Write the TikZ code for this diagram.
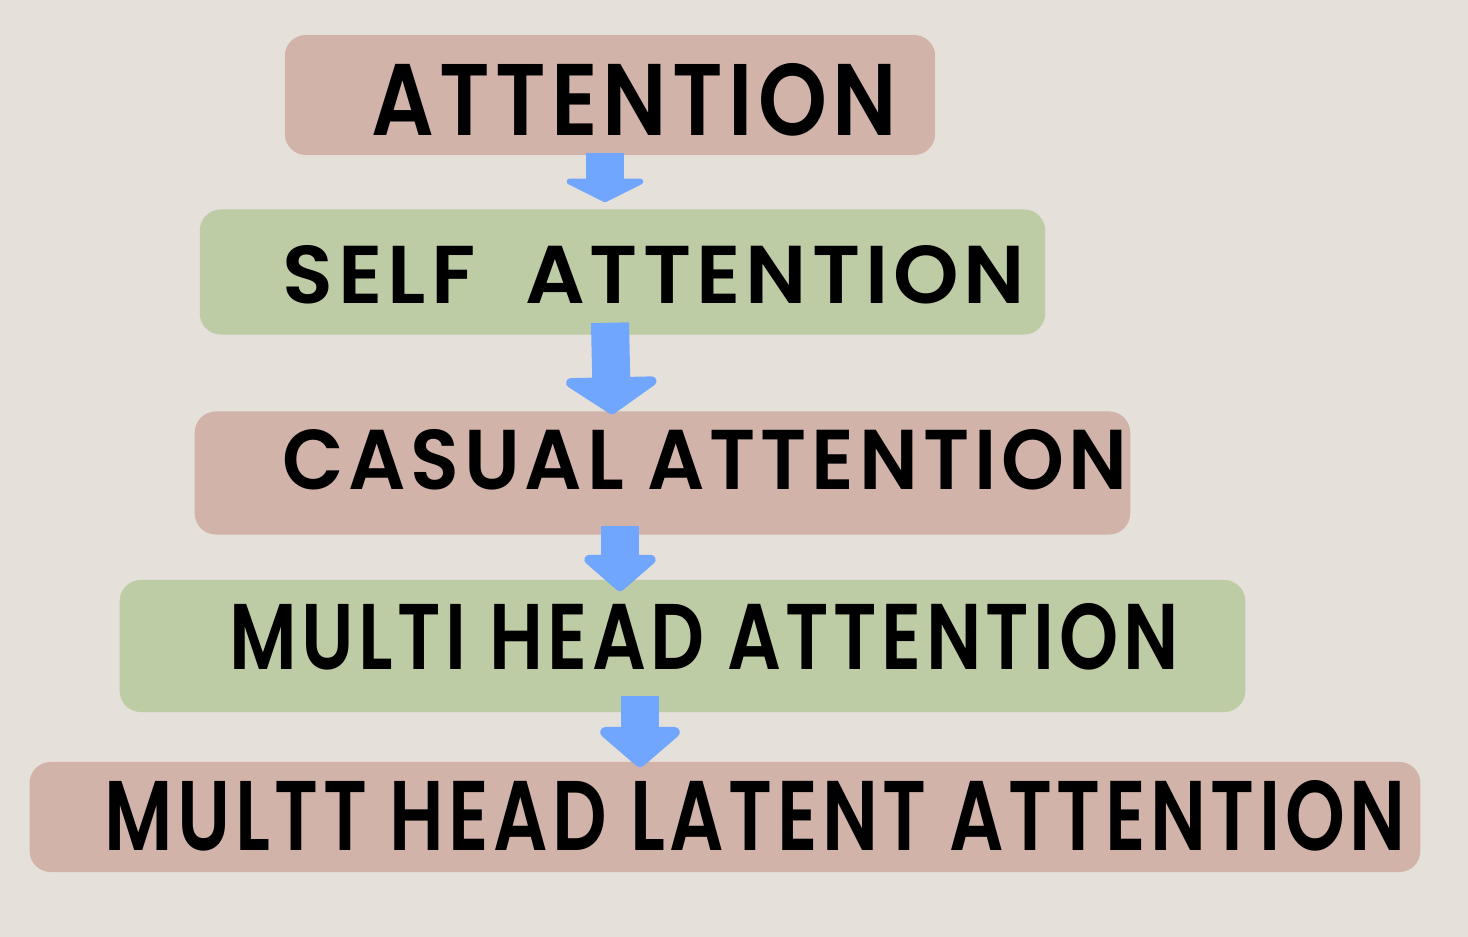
\documentclass[tikz,border=0pt]{standalone}
\usepackage{fontspec}
\usetikzlibrary{arrows.meta}
\newfontfamily\handfont{Poppins SemiBold}[LetterSpace=6]

\definecolor{paper}{HTML}{E5E0DA}
\definecolor{redbar}{HTML}{D1B3AA}
\definecolor{greenbar}{HTML}{BDCCA5}
\definecolor{arrowblue}{HTML}{70A6FD}

\newcommand{\hand}[3]{\resizebox{#1}{#2}{\handfont #3}}

\tikzset{
  bar/.style={inner sep=0pt, rounded corners=6pt},
  red/.style={bar, fill=redbar},
  green/.style={bar, fill=greenbar},
  label/.style={inner sep=0pt, text=black},
  flow/.style={draw=arrowblue, line width=0.38cm,
    -{Triangle[width=1cm, length=0.34cm, round]}}
}

\begin{document}
\begin{tikzpicture}[x=0.01cm, y=-0.01cm]

% background
\fill[paper] (0,0) rectangle (1468,937);

% bars
\node[red, minimum width=6.5cm, minimum height=1.2cm] (attn) at (610,95) {};
\node[green, minimum width=8.45cm, minimum height=1.25cm] (selfattn) at (622.5,272) {};
\node[red, minimum width=9.35cm, minimum height=1.23cm] (causal) at (662.5,473) {};
\node[green, minimum width=11.25cm, minimum height=1.32cm] (mha) at (682.5,646) {};
\node[red, minimum width=13.9cm, minimum height=1.1cm] (mla) at (725,817) {};

% arrows
\draw[flow, -{Triangle[width=0.95cm, length=0.24cm, round]}]
  ([shift={(-5,-3)}]attn.south) -- ([shift={(-17.5,-6.5)}]selfattn.north);
\draw[flow, -{Triangle[width=1.1cm, length=0.38cm, round]}]
  ([shift={(-12.5,-12.5)}]selfattn.south) -- ([shift={(-50.5,3.5)}]causal.north);
\draw[flow, -{Triangle[width=0.85cm, length=0.38cm, round]}]
  ([shift={(-42.5,-9.5)}]causal.south) -- ([shift={(-62.5,12)}]mha.north);
\draw[flow, -{Triangle[width=0.95cm, length=0.42cm, round]}]
  ([shift={(-42.5,-17)}]mha.south) -- ([shift={(-85,6)}]mla.north);

% labels
\node[label] (attn-t) at (634,100) {\hand{5.25cm}{0.72cm}{ATTENTION}};
\node[label] (selfattn-t) at (654,275) {\hand{7.42cm}{0.58cm}{SELF\ \ ATTENTION}};
\node[label] (causal-t) at (705,460) {\hand{8.45cm}{0.6cm}{CASUAL ATTENTION}};
\node[label] (mha-t) at (704,637) {\hand{9.48cm}{0.66cm}{MULTI HEAD ATTENTION}};
\node[label] (mla-t) at (755,816) {\hand{13cm}{0.7cm}{MULTT HEAD LATENT ATTENTION}};

\end{tikzpicture}
\end{document}
